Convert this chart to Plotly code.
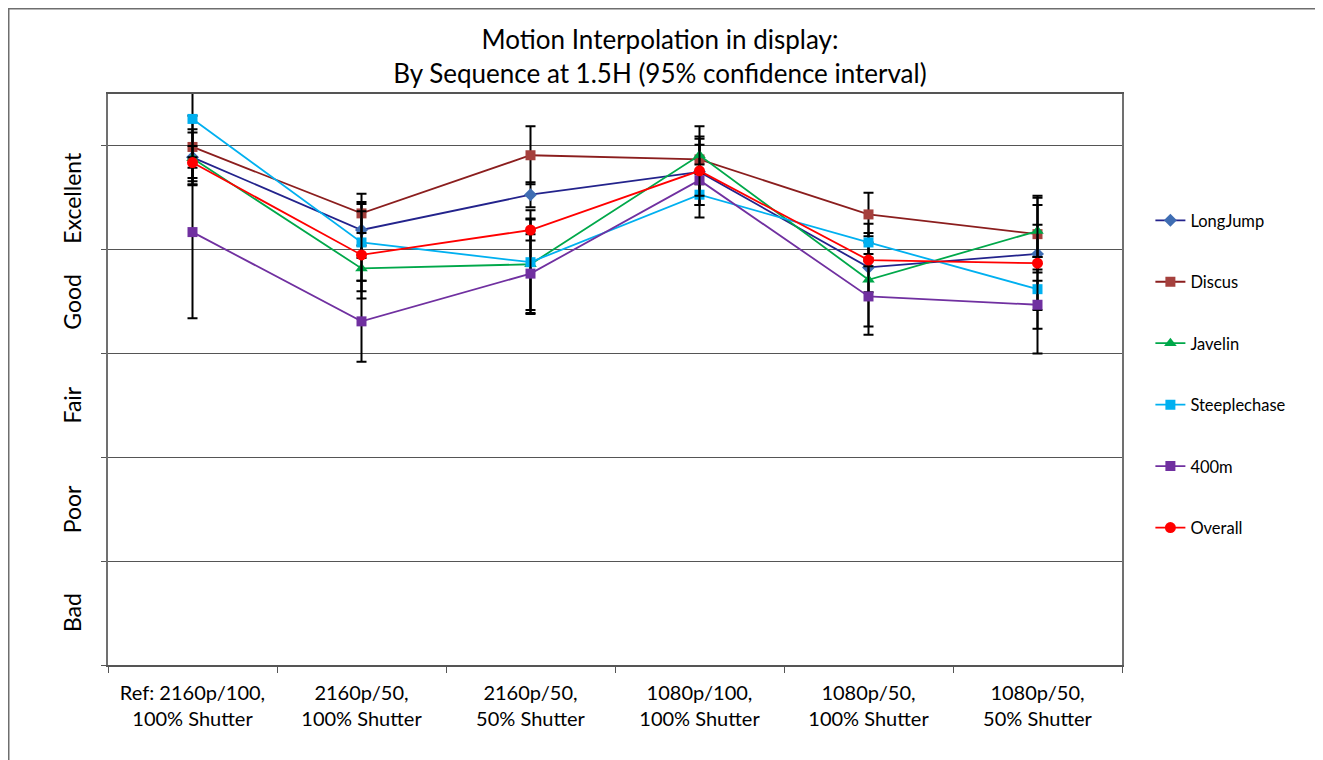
import plotly.graph_objects as go

categories = ["Ref: 2160p/100,<br>100% Shutter", "2160p/50,<br>100% Shutter", "2160p/50,<br>50% Shutter",
              "1080p/100,<br>100% Shutter", "1080p/50,<br>100% Shutter", "1080p/50,<br>50% Shutter"]

longjump = [4.89, 4.19, 4.53, 4.75, 3.83, 3.96]
discus = [4.99, 4.35, 4.91, 4.87, 4.34, 4.15]
javelin = [4.88, 3.82, 3.86, 4.91, 3.71, 4.18]
steeple = [5.26, 4.07, 3.88, 4.53, 4.07, 3.62]
m400 = [4.17, 3.31, 3.77, 4.67, 3.55, 3.47]
overall = [4.84, 3.95, 4.19, 4.76, 3.90, 3.87]

err_longjump = [0.27, 0.27, 0.12, 0.44, 0.24, 0.54]
err_discus = [0.30, 0.19, 0.28, 0.14, 0.21, 0.37]
err_javelin = [0.25, 0.22, 0.44, 0.16, 0.45, 0.25]
err_steeple = [0.60, 0.37, 0.50, 0.10, 0.18, 0.62]
err_m400 = [0.83, 0.39, 0.38, 0.15, 0.37, 0.23]
err_overall = [0.05, 0.42, 0.10, 0.33, 0.06, 0.06]

quality_labels = ["Bad", "Poor", "Fair", "Good", "Excellent"]
quality_pos = [0.5, 1.5, 2.5, 3.5, 4.5]

FONT = "Lato"

series = [
    ("LongJump", longjump, err_longjump, "#23238C", "#3F6DB3", "diamond", 10),
    ("Discus", discus, err_discus, "#8B1E1E", "#A5403D", "square", 10),
    ("Javelin", javelin, err_javelin, "#00A84A", "#00A84A", "triangle-up", 11),
    ("Steeplechase", steeple, err_steeple, "#00B0F0", "#00B0F0", "square", 10),
    ("400m", m400, err_m400, "#7030A0", "#7030A0", "square", 10),
    ("Overall", overall, err_overall, "#FF0000", "#FF0000", "circle", 11),
]

fig = go.Figure()
for name, vals, errs, lc, mc, sym, ms in series:
    fig.add_trace(go.Scatter(
        x=categories, y=vals, name=name, mode="lines+markers",
        legendgroup=name,
        line=dict(color=lc, width=1.8),
        marker=dict(color=mc, symbol=sym, size=ms),
        error_y=dict(type="data", array=errs, visible=True, color="#000000", thickness=2, width=5),
    ))

annotations = []
for lab, pos in zip(quality_labels, quality_pos):
    annotations.append(dict(x=-0.0355, xref="paper", xanchor="center", y=pos, yref="y", yanchor="middle",
                            text=lab, textangle=-90, showarrow=False,
                            font=dict(family=FONT, size=23, color="#000000")))

W, H = 1315, 752
L, R, T, B = 100, 201, 86, 95
PW, PH = W - L - R, H - T - B

fig.update_layout(
    width=W, height=H,
    paper_bgcolor="white", plot_bgcolor="white",
    margin=dict(l=L, r=R, t=T, b=B),
    title=dict(text="Motion Interpolation in display:<br>By Sequence at 1.5H (95% confidence interval)",
               xref="container", x=652 / W, xanchor="center",
               yref="container", y=1 - 41 / H, yanchor="middle",
               font=dict(family=FONT, size=26, color="#000000")),
    font=dict(family=FONT, color="#000000"),
    showlegend=True,
    legend=dict(x=1.028, xanchor="left", y=0.809, yanchor="top", tracegroupgap=37,
                font=dict(family=FONT, size=16.5, color="#000000"), bgcolor="rgba(0,0,0,0)"),
    annotations=annotations,
    shapes=[dict(type="rect", xref="paper", yref="paper",
                 x0=(0.5 - L) / PW, x1=(W + 20 - L) / PW,
                 y0=-(B + 20) / PH, y1=1 + (T - 0.5) / PH,
                 line=dict(color="#6e6e6e", width=2), layer="below")],
)

fig.update_xaxes(type="category", range=[-0.5, 5.5], tickson="boundaries", ticks="outside", ticklen=6,
                 tickcolor="#555555", showgrid=False, showline=True, linecolor="#555555", linewidth=1.5,
                 mirror=True, ticklabelstandoff=9,
                 tickfont=dict(family=FONT, size=20, color="#000000"))
fig.update_yaxes(range=[0, 5.5], tickvals=[0, 1, 2, 3, 4, 5], showticklabels=False, ticks="outside",
                 ticklen=5, tickcolor="#555555", showgrid=True, gridcolor="#555555", gridwidth=1.2,
                 zeroline=False, showline=True, linecolor="#707070", linewidth=1.5, mirror=True)

fig.write_html("out.html")
